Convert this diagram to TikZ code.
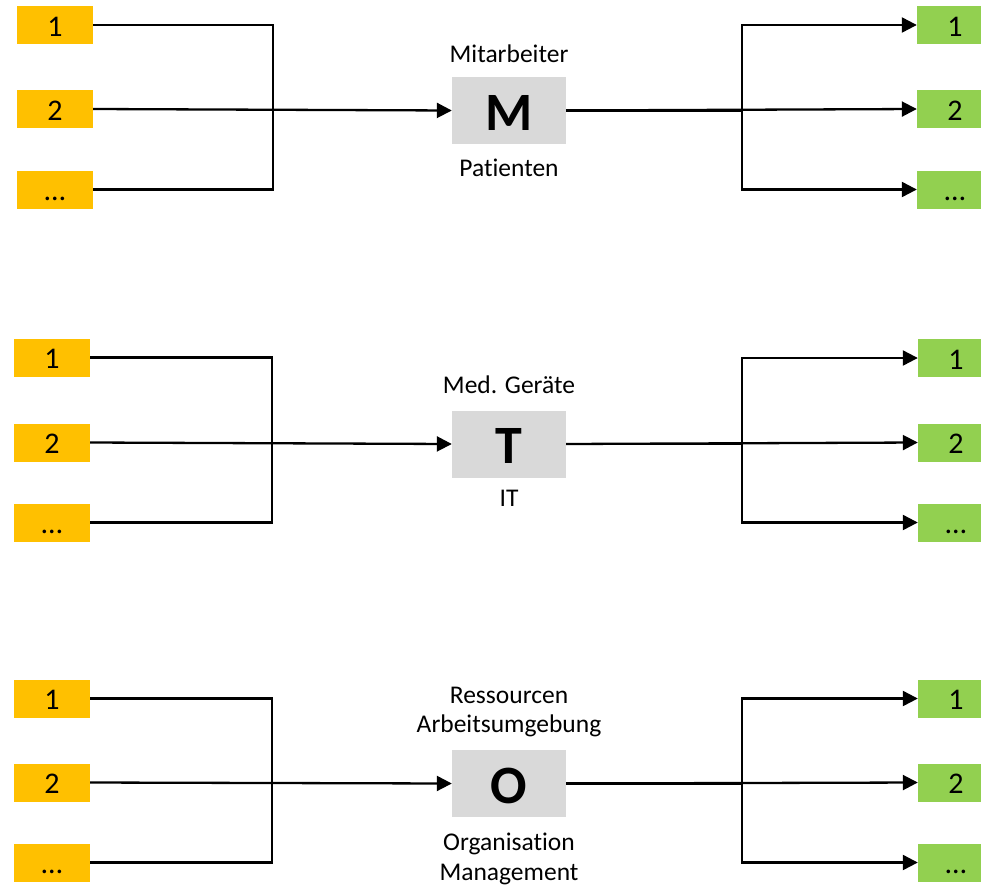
\documentclass[tikz,border=0pt]{standalone}
\usepackage{fontspec}
\setmainfont{Carlito}[Ligatures=NoCommon]
\usetikzlibrary{arrows.meta}
\definecolor{inputfill}{HTML}{FFC000}
\definecolor{outputfill}{HTML}{92D050}
\definecolor{corefill}{HTML}{D9D9D9}
\begin{document}
\begin{tikzpicture}[x=1pt,y=-1pt,
  wire/.style={line width=2.3pt, line join=miter},
  feed/.style={wire, -{Triangle[length=15pt,width=15pt]}},
  tag/.style={inner sep=0pt, minimum width=76pt, minimum height=38pt,
    text height=22pt, text depth=0pt, font=\fontsize{30}{34}\selectfont},
  infac/.style={tag, fill=inputfill},
  outfac/.style={tag, fill=outputfill},
  core/.style={fill=corefill, inner sep=0pt, minimum width=114pt, minimum height=67pt,
    text height=39pt, text depth=0pt, font=\fontsize{54}{60}\selectfont\bfseries},
  caption/.style={anchor=base, inner sep=0pt, font=\fontsize{25.5}{30}\selectfont}
]
\clip (0,0) rectangle (981,886);

% ---------- M: Mensch ----------
\node[infac]  (m-a1) at (55,25)    {1};
\node[infac]  (m-a2) at (55,109)   {2};
\node[infac]  (m-a3) at (55,189.5) {…};
\node[core]   (M)    at (509,110.5) {M};
\node[caption] (m-top) at (509,62)  {Mitarbeiter};
\node[caption] (m-bot) at (509,176) {Patienten};
\node[outfac] (m-b1) at (955,25)    {1};
\node[outfac] (m-b2) at (955,109)   {2};
\node[outfac] (m-b3) at (955,189.5) {…};
\coordinate (m-jl) at (273,110.5);
\coordinate (m-jr) at (742,110.5);
\draw[wire] (m-a1.east) -| (m-jl);
\draw[wire] (m-a3.east) -| (m-jl);
\draw[feed] (m-a2.east) -- (M.west);
\draw[wire] (M.east) -- (m-jr);
\draw[feed] (m-jr) |- (m-b1.west);
\draw[feed] (m-jr) |- (m-b3.west);
\draw[feed] (M.east) -- (m-b2.west);

% ---------- T: Technik ----------
\node[infac]  (t-a1) at (52,357.5) {1};
\node[infac]  (t-a2) at (52,442.5) {2};
\node[infac]  (t-a3) at (52,522.5) {…};
\node[core]   (T)    at (509,444)  {T};
\node[caption] (t-top) at (509,393) {Med. Geräte};
\node[caption] (t-bot) at (509,506) {IT};
\node[outfac] (t-b1) at (956,358)   {1};
\node[outfac] (t-b2) at (956,442.5) {2};
\node[outfac] (t-b3) at (956,522.5) {…};
\coordinate (t-jl) at (272,444);
\coordinate (t-jr) at (742,444);
\draw[wire] (t-a1.east) -| (t-jl);
\draw[wire] (t-a3.east) -| (t-jl);
\draw[feed] (t-a2.east) -- (T.west);
\draw[wire] (T.east) -- (t-jr);
\draw[feed] (t-jr) |- (t-b1.west);
\draw[feed] (t-jr) |- (t-b3.west);
\draw[feed] (T.east) -- (t-b2.west);

% ---------- O: Organisation ----------
\node[infac]  (o-a1) at (52,698.5) {1};
\node[infac]  (o-a2) at (52,782.5) {2};
\node[infac]  (o-a3) at (52,862.5) {…};
\node[core]   (O)    at (509,783.5) {O};
\node[caption] (o-top1) at (509,703) {Ressourcen};
\node[caption] (o-top2) at (509,732) {Arbeitsumgebung};
\node[caption] (o-bot1) at (509,850) {Organisation};
\node[caption] (o-bot2) at (509,880) {Management};
\node[outfac] (o-b1) at (956,698.5) {1};
\node[outfac] (o-b2) at (956,782.5) {2};
\node[outfac] (o-b3) at (956,862.5) {…};
\coordinate (o-jl) at (272,783.5);
\coordinate (o-jr) at (742,783.5);
\draw[wire] (o-a1.east) -| (o-jl);
\draw[wire] (o-a3.east) -| (o-jl);
\draw[feed] (o-a2.east) -- (O.west);
\draw[wire] (O.east) -- (o-jr);
\draw[feed] (o-jr) |- (o-b1.west);
\draw[feed] (o-jr) |- (o-b3.west);
\draw[feed] (O.east) -- (o-b2.west);
\end{tikzpicture}
\end{document}
